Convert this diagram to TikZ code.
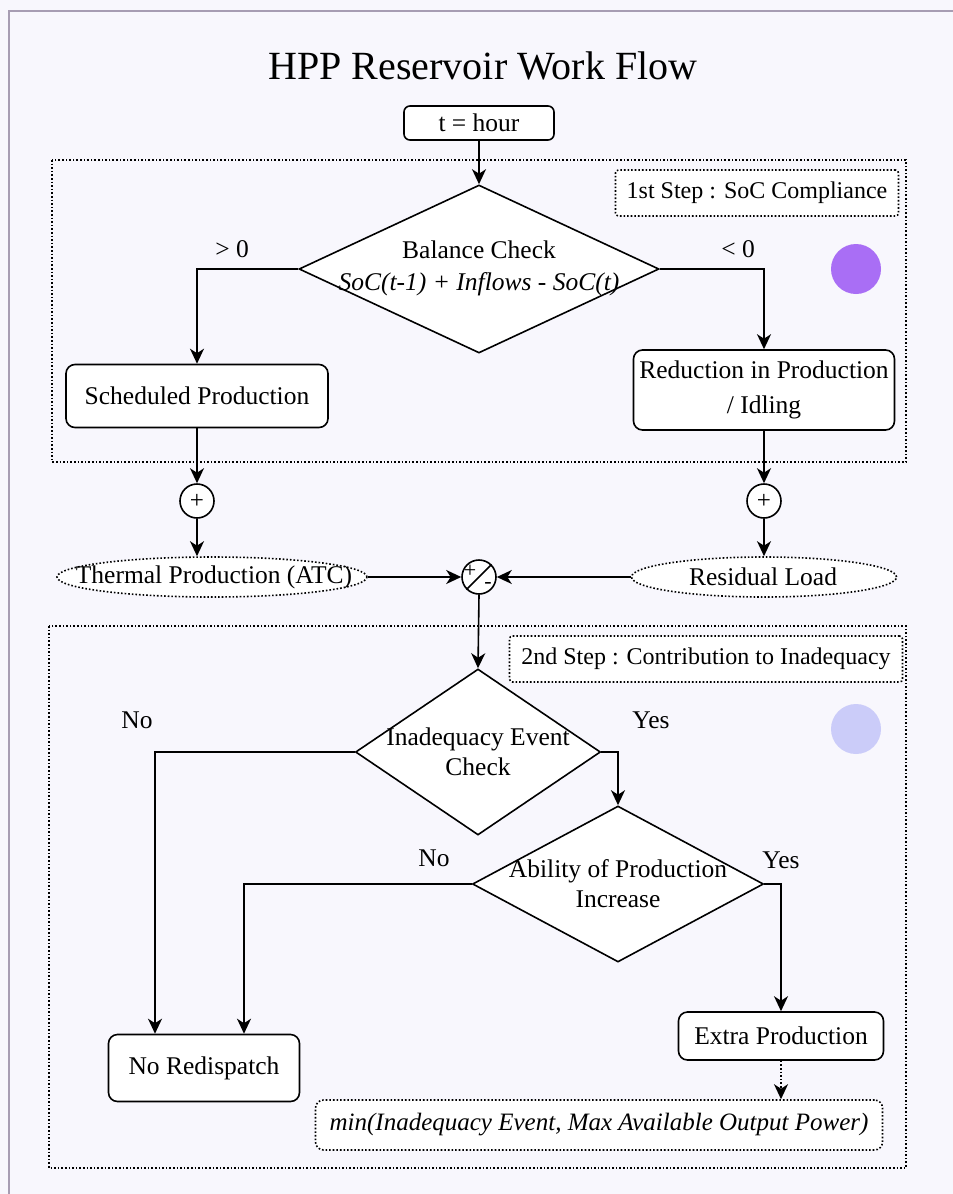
\documentclass[tikz,border=0pt]{standalone}
\usepackage{fontspec}
\setmainfont{Liberation Serif}
\usetikzlibrary{shapes.geometric,arrows.meta,calc}
\definecolor{bgc}{HTML}{F8F7FD}
\definecolor{framec}{HTML}{A79DB3}
\definecolor{purplec}{HTML}{A96EF5}
\definecolor{lightc}{HTML}{CBCCF9}
\tikzset{
  every picture/.style={line width=1.6pt},
  txt/.style={align=center, font=\fontsize{25.5}{31}\selectfont, inner sep=0pt},
  rbox/.style={draw, fill=white, rounded corners=9pt, align=center, font=\fontsize{25.5}{31}\selectfont, inner sep=0pt},
  lbox/.style={draw, dotted, fill=white, rounded corners=3pt, align=center, font=\fontsize{24}{28}\selectfont, inner sep=0pt},
  dia/.style={draw, fill=white, diamond, inner sep=0pt},
  ell/.style={draw, dotted, fill=white, ellipse, inner sep=0pt},
  sumc/.style={draw, fill=white, circle, minimum size=34pt, inner sep=0pt, font=\fontsize{25}{25}\selectfont},
  region/.style={draw, dotted},
  arr/.style={-{Stealth[length=15pt,width=14pt,inset=4.5pt]}},
}
\begin{document}
\begin{tikzpicture}[x=1pt,y=-1pt]
\useasboundingbox (0,0) rectangle (953,1194);
\clip (0,0) rectangle (953,1194);
\fill[bgc] (0,0) rectangle (953,1194);
\draw[framec, line width=2.5pt] (9,11) rectangle (1000,1240);

% title
\node[txt, font=\fontsize{40}{40}\selectfont] (title) at (483,66) {HPP Reservoir Work Flow};

% regions
\draw[region] (52,160) rectangle (906,462);
\draw[region] (49,626) rectangle (906,1168);

% step labels
\node[lbox, minimum width=283pt, minimum height=46pt] (s1) at (757,193) {1st Step : SoC Compliance};
\node[lbox, minimum width=393pt, minimum height=46pt] (s2) at (706,659) {2nd Step : Contribution to Inadequacy};

% circles
\fill[purplec] (856,269) circle (25);
\fill[lightc] (856,729) circle (25);

% top
\node[rbox, rounded corners=6pt, minimum width=150pt, minimum height=34pt] (t) at (479,123) {t = hour};

\node[dia, minimum width=360pt, minimum height=168pt] (d1) at (479,269) {};
\node[txt, font=\fontsize{25.5}{32}\selectfont] (d1t) at (479,268) {Balance Check\\\textit{SoC(t-1) + Inflows - SoC(t)}};

\node[rbox, minimum width=262pt, minimum height=63pt] (sp) at (197,396) {Scheduled Production};
\node[rbox, font=\fontsize{25.5}{35}\selectfont, minimum width=261pt, minimum height=80pt] (rp) at (764,390) {Reduction in Production\\/ Idling};

\node[txt] (gt) at (232,249) {> 0};
\node[txt] (lt) at (738,249) {< 0};

\node[sumc] (c1) at (197,501) {+};
\node[sumc] (c2) at (764,501) {+};

\node[ell, minimum width=310pt, minimum height=40pt] (th) at (212,577) {};
\node[txt] (tht) at (214,577) {Thermal Production (ATC)};
\node[ell, minimum width=265pt, minimum height=40pt] (rl) at (764,577) {};
\node[txt] (rlt) at (763,577) {Residual Load};

\node[sumc] (pm) at (479,577) {};
\draw (pm.south west) -- (pm.north east);
\node[txt, font=\fontsize{22}{22}\selectfont] (pmp) at (470,571) {+};
\node[txt, font=\fontsize{22}{22}\selectfont] (pmm) at (488,585) {-};

% second step
\node[dia, minimum width=245pt, minimum height=166pt] (d2) at (478,752) {};
\node[txt, font=\fontsize{25.5}{30}\selectfont] (d2t) at (478,752) {Inadequacy Event\\Check};
\node[dia, minimum width=291pt, minimum height=156pt] (d3) at (618,884) {};
\node[txt, font=\fontsize{25.5}{30}\selectfont] (d3t) at (618,884) {Ability of Production\\Increase};

\node[txt] (no1) at (137,720) {No};
\node[txt] (yes1) at (651,720) {Yes};
\node[txt] (no2) at (434,858) {No};
\node[txt] (yes2) at (781,860) {Yes};

\node[rbox, minimum width=191pt, minimum height=67pt] (nr) at (204,1068) {No Redispatch};
\node[rbox, minimum width=205pt, minimum height=48pt] (ep) at (781,1036) {Extra Production};
\node[lbox, rounded corners=8pt, minimum width=567pt, minimum height=50pt, font=\fontsize{25}{30}\selectfont\itshape] (mn) at (599,1125) {min(Inadequacy Event, Max Available Output Power)};

% connectors
\draw[arr] (t.south) -- (d1.north);
\draw[arr] (d1.west) -| (sp.north);
\draw[arr] (d1.east) -| (rp.north);
\draw[arr] (sp.south) -- (c1.north);
\draw[arr] (rp.south) -- (c2.north);
\draw[arr] (c1.south) -- (c1.south |- th.north);
\draw[arr] (c2.south) -- (rl.north);
\draw[arr] (th.east) -- (pm.west);
\draw[arr] (rl.west) -- (pm.east);
\draw[arr] (pm.south) -- (d2.north);
\draw[arr] (d2.west) -| ([xshift=-49pt]nr.north);
\draw[arr] (d2.east) -| (d3.north);
\draw[arr] (d3.west) -| ([xshift=40pt]nr.north);
\draw[arr] (d3.east) -| (ep.north);
\draw[arr, dotted] (ep.south) -- (ep.south |- mn.north);
\end{tikzpicture}
\end{document}
